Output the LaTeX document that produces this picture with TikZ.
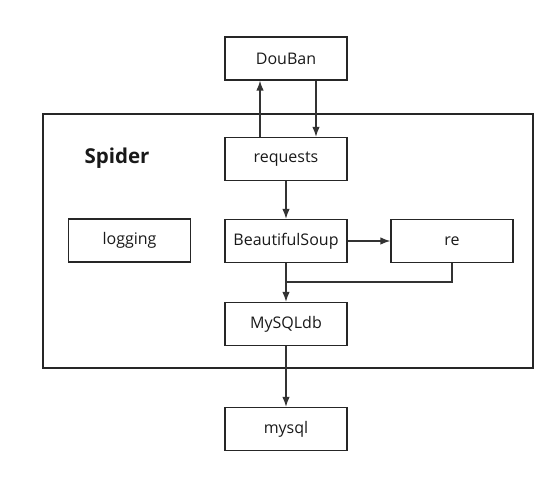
\documentclass[tikz,border=0pt]{standalone}
\usepackage{fontspec}
\setmainfont{Open Sans}
\usetikzlibrary{arrows.meta}
\begin{document}
\begin{tikzpicture}[x=1pt,y=-1pt,
  box/.style={draw=black!85,line width=1.3pt,minimum width=122pt,minimum height=43pt,inner sep=0pt,font=\fontsize{16}{18}\selectfont,text=black!90},
  conn/.style={draw=black!80,line width=1.3pt,-{Latex[length=10pt,width=7.5pt]}},
  line/.style={draw=black!80,line width=1.3pt}]
\useasboundingbox (0,0) rectangle (558,478);
\node[draw=black!85,line width=1.3pt,minimum width=490pt,minimum height=254pt,inner sep=0pt] (spider) at (288,241) {};
\node[font=\bfseries\fontsize{20.5}{24}\selectfont,text=black!90] (spl) at (117,158) {Spider};
\node[box] (douban) at (286,58.5) {DouBan};
\node[box] (requests) at (286,159) {requests};
\node[box] (logging) at (129.5,240.5) {logging};
\node[box] (bs) at (286,241) {BeautifulSoup};
\node[box] (re) at (452,241) {re};
\node[box] (mysqldb) at (286,324) {MySQLdb};
\node[box] (mysql) at (286,429) {mysql};
\draw[conn] (requests.north -| 260,0) -- (douban.south -| 260,0);
\draw[conn] (douban.south -| 316,0) -- (requests.north -| 316,0);
\draw[conn] (requests) -- (bs);
\draw[conn] (bs) -- (re);
\draw[conn] (bs) -- (mysqldb);
\coordinate (j) at (286,282);
\draw[line] (re.south) |- (j);
\draw[conn] (mysqldb) -- (mysql);
\end{tikzpicture}
\end{document}
